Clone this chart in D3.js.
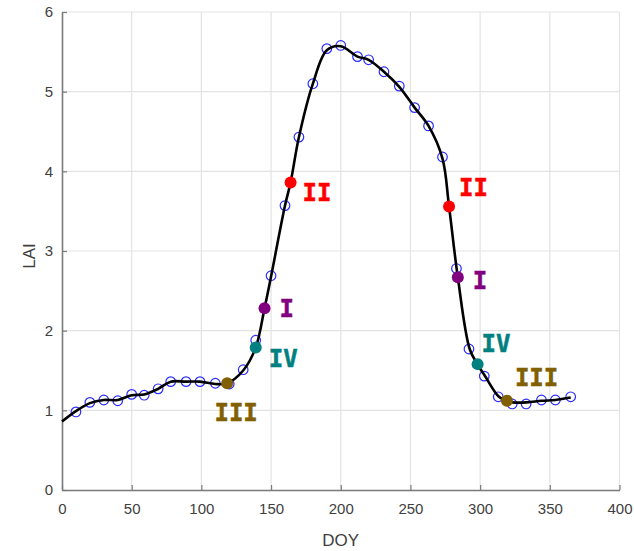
<!DOCTYPE html>
<html>
<head>
<meta charset="utf-8">
<script src="https://cdn.jsdelivr.net/npm/d3@7"></script>
<style>
  body { margin: 0; background: #fff; }
</style>
</head>
<body>
<div id="chart"></div>
<script>
// observed LAI samples (blue circles)
const obsDoy = [10, 20, 30, 40, 50, 59, 69, 78, 89, 99, 110, 120, 130, 139, 150, 160, 170, 180,
  190, 200, 212, 220, 231, 242, 253, 263, 273, 283, 292, 303, 313, 323, 333, 344, 354, 365];
const obsLai = [0.98, 1.10, 1.13, 1.12, 1.20, 1.19, 1.27, 1.36, 1.36, 1.36, 1.34, 1.33, 1.51, 1.88, 2.69, 3.57, 4.43, 5.10,
  5.54, 5.58, 5.44, 5.40, 5.25, 5.07, 4.80, 4.57, 4.18, 2.78, 1.77, 1.43, 1.17, 1.08, 1.08, 1.13, 1.13, 1.17];

// fitted curve knots (black line)
const fitDoy = [0, 10, 20, 30, 40, 50, 59, 69, 78, 89, 99, 110, 118.5, 130, 139, 145.3, 150, 160, 164, 170, 180,
  190, 200, 212, 220, 231, 242, 253, 263, 273, 277.7, 284, 292.5, 298, 303.5, 313.5, 319, 323.5, 333.5, 344, 354, 365];
const fitLai = [0.86, 0.99, 1.09, 1.13, 1.13, 1.19, 1.20, 1.27, 1.36, 1.36, 1.36, 1.33, 1.34, 1.50, 1.79, 2.28, 2.68, 3.57, 3.86, 4.43, 5.10,
  5.52, 5.57, 5.44, 5.40, 5.25, 5.06, 4.80, 4.57, 4.16, 3.56, 2.67, 1.77, 1.58, 1.43, 1.17, 1.12, 1.10, 1.10, 1.12, 1.13, 1.16];

// phenology stage points
const stageName = ["III", "IV", "I", "II", "II", "I", "IV", "III"];
const stageDoy = [118.5, 139, 145.3, 164, 277.7, 284, 298.2, 319.2];
const stageLai = [1.34, 1.79, 2.28, 3.86, 3.56, 2.67, 1.58, 1.12];

const xTicks = [0, 50, 100, 150, 200, 250, 300, 350, 400];
const yTicks = [0, 1, 2, 3, 4, 5, 6];

const stageColor = { "I": "#800080", "II": "#ff0000", "III": "#806000", "IV": "#008080" };
// label offset from its point, in px
const labelOffset = [[9, 29, "middle"], [13, 11, "start"], [15, 0, "start"], [12, 10, "start"],
  [10, -19, "start"], [15, 3, "start"], [4, -21, "start"], [8, -23, "start"]];

const svgWidth = 634;
const svgHeight = 551;

const svg = d3.select("#chart")
  .append("svg")
  .attr("width", svgWidth)
  .attr("height", svgHeight)
  .attr("font-family", "Liberation Sans, Arial, sans-serif");

const x = d3.scaleLinear().domain([0, 400]).range([62, 619.5]);
const y = d3.scaleLinear().domain([0, 6]).range([490, 12]);

// grid
svg.append("g")
  .selectAll("line")
  .data(xTicks.slice(1))
  .enter()
  .append("line")
  .attr("x1", d => x(d)).attr("x2", d => x(d))
  .attr("y1", y(0)).attr("y2", y(6))
  .attr("stroke", "#e3e3e3").attr("stroke-width", 1.2);

svg.append("g")
  .selectAll("line")
  .data(yTicks.slice(1))
  .enter()
  .append("line")
  .attr("y1", d => y(d)).attr("y2", d => y(d))
  .attr("x1", x(0)).attr("x2", x(400))
  .attr("stroke", "#e3e3e3").attr("stroke-width", 1.2);

// axes, ticks inside like matlab
const bottomAxis = d3.axisBottom(x).tickValues(xTicks).tickFormat(d3.format("d"))
  .tickSizeInner(-5).tickSizeOuter(0).tickPadding(13);
const leftAxis = d3.axisLeft(y).tickValues(yTicks).tickFormat(d3.format("d"))
  .tickSizeInner(-5).tickSizeOuter(0).tickPadding(9);

const gx = svg.append("g")
  .attr("transform", `translate(0, ${y(0)})`)
  .call(bottomAxis);
const gy = svg.append("g")
  .attr("transform", `translate(${x(0)}, 0)`)
  .call(leftAxis);

[gx, gy].forEach(g => {
  g.select(".domain").attr("stroke", "#7a7a7a").attr("stroke-width", 1.6);
  g.selectAll(".tick line").attr("stroke", "#7a7a7a").attr("stroke-width", 1.2);
  g.selectAll(".tick text")
    .attr("fill", "#404040")
    .attr("font-size", 15)
    .attr("font-family", "Liberation Sans, Arial, sans-serif");
});

// axis titles
svg.append("text")
  .attr("x", x(200))
  .attr("y", 546)
  .attr("text-anchor", "middle")
  .attr("font-size", 17)
  .attr("fill", "#404040")
  .text("DOY");

svg.append("text")
  .attr("transform", `translate(35, ${(y(0) + y(6)) / 2 + 5}) rotate(-90)`)
  .attr("text-anchor", "middle")
  .attr("font-size", 17)
  .attr("fill", "#404040")
  .text("LAI");

// observed circles
svg.append("g")
  .selectAll("circle")
  .data(obsDoy)
  .enter()
  .append("circle")
  .attr("cx", d => x(d))
  .attr("cy", (d, i) => y(obsLai[i]))
  .attr("r", 4.8)
  .attr("fill", "none")
  .attr("stroke", "#2b2bff")
  .attr("stroke-width", 1.2);

// fitted line
const line = d3.line()
  .x(d => x(d[0]))
  .y(d => y(d[1]))
  .curve(d3.curveCatmullRom.alpha(0.5));

svg.append("path")
  .datum(fitDoy.map((d, i) => [d, fitLai[i]]))
  .attr("d", line)
  .attr("fill", "none")
  .attr("stroke", "#000")
  .attr("stroke-width", 2.6);

// stage points and labels
svg.append("g")
  .selectAll("circle")
  .data(stageDoy)
  .enter()
  .append("circle")
  .attr("cx", d => x(d))
  .attr("cy", (d, i) => y(stageLai[i]))
  .attr("r", 6)
  .attr("fill", (d, i) => stageColor[stageName[i]]);

svg.append("g")
  .selectAll("text")
  .data(stageDoy)
  .enter()
  .append("text")
  .attr("x", (d, i) => x(d) + labelOffset[i][0])
  .attr("y", (d, i) => y(stageLai[i]) + labelOffset[i][1])
  .attr("dy", "0.36em")
  .attr("text-anchor", (d, i) => labelOffset[i][2])
  .attr("font-family", "DejaVu Sans Mono, monospace")
  .attr("font-weight", "bold")
  .attr("font-size", 24)
  .attr("fill", (d, i) => stageColor[stageName[i]])
  .attr("stroke", (d, i) => stageColor[stageName[i]])
  .attr("stroke-width", 0.5)
  .text((d, i) => stageName[i]);
</script>
</body>
</html>
